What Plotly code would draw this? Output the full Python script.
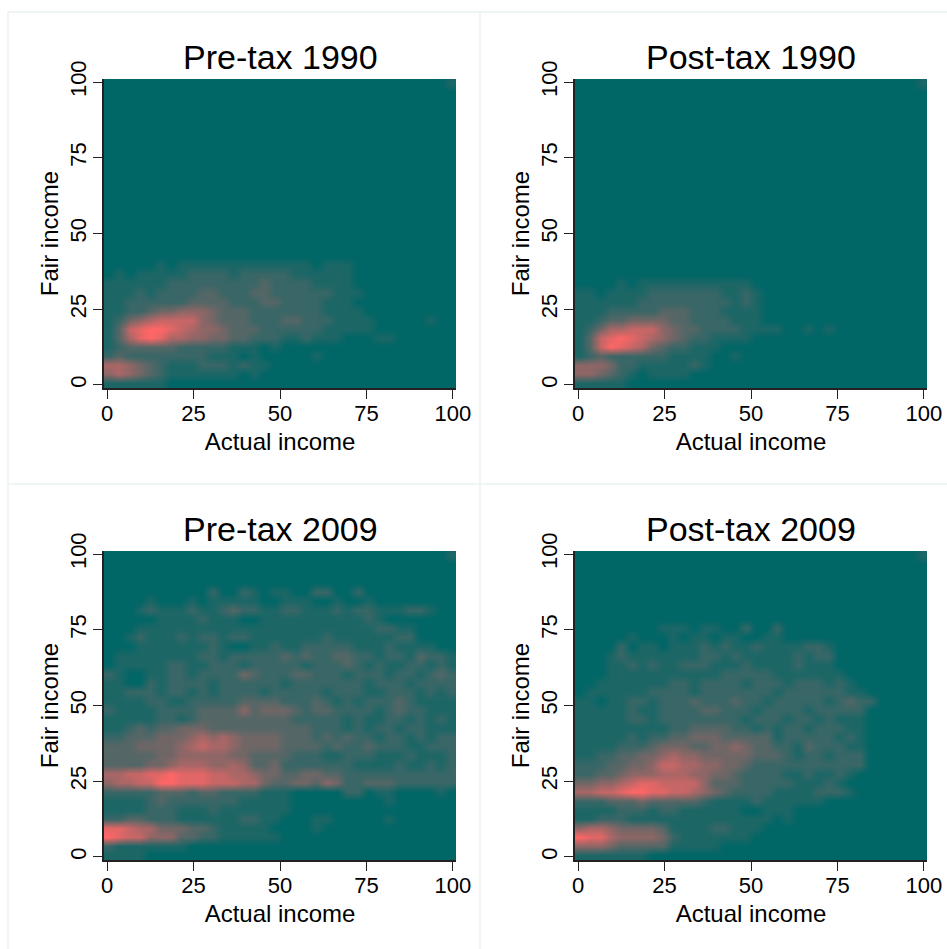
import plotly.graph_objects as go

# Density, on a 0-9 scale. Rows run bottom to top (y = 0.5, 3.5, ...),
# columns left to right (x = 0.5, 3.5, ...). Missing trailing cells are 0.
pre_1990 = [
    "1111110",
    "5654321111111010",
    "6654321112221211",
    "2322222222111010000010",
    "1233333222221110100000",
    "13689866554433222112111000110",
    "13789987655433322222211111",
    "1245677775433322233222111100000100",
    "1122344555433322222221111",
    "11222222333322233222211100",
    "1112122223322233222222111",
    "111111222222222322221111",
    "010111112222122222111111",
    "000001011111111111110111",
    "", "", "", "", "", "", "", "", "", "", "", "", "", "", "", "", "", "", "",
    "0000000000000000000000000000000001",
]
post_1990 = [
    "111110",
    "5543210111100",
    "5554221111121",
    "1232222221111001",
    "1379876432211100",
    "137898765432211110",
    "1246677754332222111100101",
    "112334444332222111",
    "111222223332221111",
    "111111222222222121",
    "110111122222221121",
    "000010111111111110",
    "", "", "", "", "", "", "", "", "", "", "", "", "", "", "", "", "", "", "", "",  "",
    "0000000000000000000000000000000001",
]
pre_2009 = [
    "1111",
    "211111110",
    "98775553322111111",
    "887664443321111100001",
    "223322211111122110001100000100",
    "1111222111211111110",
    "111123222222211111000000000100",
    "222223332332222111000002201100001",
    "5667799888777664334435422333222222",
    "6677889888776654433443322222222222",
    "3333445666556533422222221111211212",
    "3333344555554433332221122211121112",
    "3334444567665444433332322322211222",
    "2233344456565444433323232212212122",
    "1123233444333333333322212122122111",
    "1111122123333333332222212112212121",
    "2111122223333534443233222212322111",
    "1111221122222333322232121222321111",
    "1122212212122221222221222112221212",
    "1100212222122222212222222122212222",
    "2100112212222432223322212221221232",
    "0111112211222122222122232121122121",
    "0111111112212222232322332212213221",
    "0001111111210011211222221112111100",
    "00121112122122111111121111112200",
    "000111111111111111111111112211",
    "00000111121110011111111112100",
    "00012111211232211221112122111221",
    "00001000101111100111001001",
    "00000000002002101100220020",
    "", "", "",
    "0000000000000000000000000000000001",
]
post_2009 = [
    "1111111",
    "55543333311111",
    "988655554211111110",
    "5665444431111221110",
    "1122211111111111111010",
    "11112221221111110011100",
    "222333433333211112111111000",
    "667789988776543222211112221",
    "445567887777533322222111210",
    "223345556665544322221121121",
    "22233445776655443222222222220",
    "11223344565544444333212212220",
    "1111222344433445433221322211",
    "1111121223344433333122222121",
    "1111111112233332212122122211",
    "1111122122222222122212212111",
    "1111121122223322212222122222",
    "11011221222322232212222212322",
    "0111111222212222222122222211",
    "001111111221222212221222121",
    "00011111111111222221111111",
    "0001121211222111211112111",
    "0001211111112212111112122",
    "00002011011121211211112210",
    "0000010001011011001100",
    "000000001110110020020",
    "", "", "", "", "", "", "",
    "0000000000000000000000000000000001",
]

x_centers = [0.5 + 3 * i for i in range(34)]
y_centers = [0.5 + 3 * i for i in range(34)]
tick_vals = [0, 25, 50, 75, 100]
tick_text = ["0", "25", "50", "75", "100"]
panel_titles = ["Pre-tax 1990", "Post-tax 1990", "Pre-tax 2009", "Post-tax 2009"]
panel_rows = [pre_1990, post_1990, pre_2009, post_2009]

W, H = 947, 949
FONT = "Liberation Sans, Arial, Helvetica, sans-serif"
# plot areas in page pixels: left, right, top, bottom
boxes = [(104, 456, 79, 388), (575, 927, 79, 388), (104, 456, 551, 860), (575, 927, 551, 860)]


def decode(rows):
    return [[int(c) for c in r.ljust(34, "0")[:34]] for r in rows]


fig = go.Figure()
annotations = []
for i, (rows, box, title) in enumerate(zip(panel_rows, boxes, panel_titles)):
    n = "" if i == 0 else str(i + 1)
    l, r, t, b = box
    fig.add_trace(go.Heatmap(
        x=x_centers, y=y_centers, z=decode(rows),
        zmin=0, zmax=9, zsmooth="best", showscale=False, hoverinfo="skip",
        colorscale=[[0, "#006666"], [1, "#FF6666"]],
        xaxis="x" + n, yaxis="y" + n,
    ))
    common = dict(
        tickmode="array", tickvals=tick_vals, ticktext=tick_text,
        ticks="outside", ticklen=9, tickwidth=1, tickcolor="#222222",
        showline=True, linecolor="#222222", linewidth=1.5,
        showgrid=False, zeroline=False, automargin=False,
        tickfont=dict(family=FONT, size=22, color="black"),
    )
    fig.update_layout({
        "xaxis" + n: dict(
            domain=[l / W, r / W], range=[-0.9, 100.9], anchor="y" + n,
            ticklabelstandoff=-4,
            title=dict(text="Actual income", standoff=8,
                       font=dict(family=FONT, size=24, color="black")),
            **common),
        "yaxis" + n: dict(
            domain=[1 - b / H, 1 - t / H], range=[-1, 101], anchor="x" + n,
            tickangle=-90, ticklabelstandoff=-2,
            title=dict(text="Fair income", standoff=1,
                       font=dict(family=FONT, size=24, color="black")),
            **common),
    })
    annotations.append(dict(
        text=title, xref="paper", yref="paper", showarrow=False,
        x=(l + r) / 2 / W, y=1 - (t - 22) / H, xanchor="center", yanchor="middle",
        font=dict(family=FONT, size=34, color="black"),
    ))

frame = "#EAF1F2"
shapes = []
for x0, y0, x1, y1 in [(8, 12, 947, 12), (8, 484, 947, 484), (8, 12, 8, 949), (480, 12, 480, 949)]:
    shapes.append(dict(type="line", xref="paper", yref="paper",
                       x0=x0 / W, x1=x1 / W, y0=1 - y0 / H, y1=1 - y1 / H,
                       line=dict(color=frame, width=1.5), layer="below"))

fig.update_layout(
    template="none",
    width=W, height=H, margin=dict(l=0, r=0, t=0, b=0),
    paper_bgcolor="white", plot_bgcolor="#006666",
    annotations=annotations, shapes=shapes, showlegend=False,
)
fig.write_html("out.html", config={"displayModeBar": False},
               post_script="document.body.style.margin='0';document.body.style.overflow='hidden';")
